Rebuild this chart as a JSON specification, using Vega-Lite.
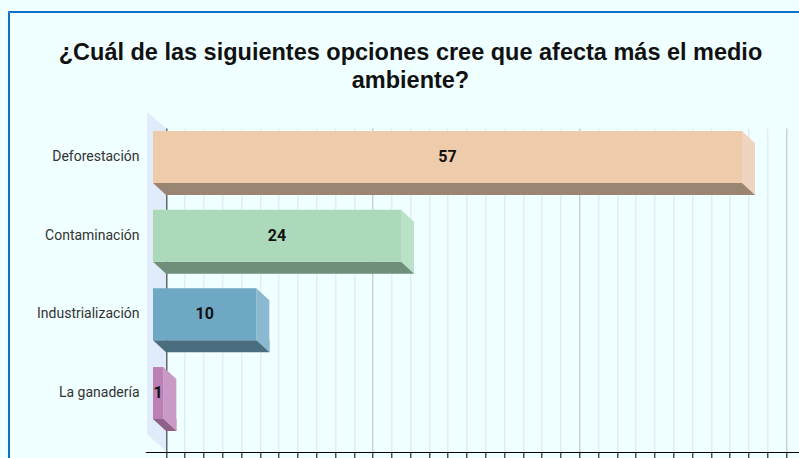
{
  "$schema": "https://vega.github.io/schema/vega-lite/v6.json",
  "autosize": {"type": "none"},
  "padding": {"left": 145.333, "top": 128, "right": -7.667, "bottom": 6},
  "width": 661.333,
  "height": 324,
  "background": "#f0ffff",
  "view": {"stroke": null},
  "title": {
    "text": ["¿Cuál de las siguientes opciones cree que afecta más el medio", "ambiente?"],
    "anchor": "middle",
    "frame": "group",
    "offset": -82,
    "dx": -65.5,
    "font": "Liberation Sans",
    "fontSize": 23.5,
    "fontWeight": "bold",
    "color": "#111111",
    "lineHeight": 28
  },
  "data": {
    "values": [
      {"opcion": "Deforestación", "votos": 57},
      {"opcion": "Contaminación", "votos": 24},
      {"opcion": "Industrialización", "votos": 10},
      {"opcion": "La ganadería", "votos": 1}
    ]
  },
  "encoding": {
    "y": {
      "field": "opcion",
      "type": "nominal",
      "sort": null,
      "scale": {"domain": ["Deforestación", "Contaminación", "Industrialización", "La ganadería"], "paddingInner": 0.339, "paddingOuter": 0.229, "align": 0.417},
      "axis": {
        "orient": "left",
        "offset": 6.333,
        "domain": false,
        "ticks": false,
        "tickSize": 0,
        "labelPadding": 0,
        "labelOffset": -12,
        "labelFont": "Roboto",
        "labelFontSize": 14,
        "labelColor": "#333333",
        "title": null,
        "grid": false
      }
    },
    "x": {
      "field": "votos",
      "type": "quantitative",
      "scale": {"domain": [-2, 62], "nice": false, "zero": false},
      "axis": {
        "values": [0, 1.8182, 3.6364, 5.4545, 7.2727, 9.0909, 10.9091, 12.7273, 14.5455, 16.3636, 18.1818, 20, 21.8182, 23.6364, 25.4545, 27.2727, 29.0909, 30.9091, 32.7273, 34.5455, 36.3636, 38.1818, 40, 41.8182, 43.6364, 45.4545, 47.2727, 49.0909, 50.9091, 52.7273, 54.5455, 56.3636, 58.1818, 60],
        "labels": false,
        "title": null,
        "domainColor": "#000000",
        "tickColor": "#000000",
        "tickSize": 6,
        "grid": true,
        "gridColor": {
          "condition": [
            {"test": "datum.value === 0", "value": "#1a1a1a"},
            {"test": "abs(datum.value - 20 * round(datum.value / 20)) < 0.01", "value": "#aebfca"}
          ],
          "value": "#d9e6f6"
        }
      }
    }
  },
  "layer": [
    {
      "transform": [{"filter": "datum.opcion === 'Contaminación'"}],
      "mark": {"type": "point", "shape": "M-19,-135.7L0,-119.7L0,203.3L-19,186.3Z", "size": 4, "filled": true, "opacity": 1, "strokeWidth": 0, "color": "#e1ecfb"},
      "encoding": {"x": {"datum": 0, "type": "quantitative"}}
    },
    {
      "mark": {"type": "bar", "height": 12, "yOffset": 20},
      "encoding": {
        "color": {"field": "opcion", "type": "nominal", "sort": null,
          "scale": {"domain": ["Deforestación", "Contaminación", "Industrialización", "La ganadería"], "range": ["#9a8472", "#6f8f7b", "#4b6d80", "#8f6088"]},
          "legend": {"orient": "none", "legendX": -137.333, "legendY": -117, "padding": 420, "strokeColor": "#0b71c7", "fillColor": "transparent", "symbolOpacity": 0, "labelExpr": "''", "title": null}}
      }
    },
    {
      "mark": {"type": "point", "shape": "M-13,14L0,14L0,26Z", "size": 4, "filled": true, "opacity": 1, "strokeWidth": 0},
      "encoding": {
        "x": {"datum": 0, "type": "quantitative"},
        "color": {"field": "opcion", "type": "nominal", "sort": null, "legend": null,
          "scale": {"domain": ["Deforestación", "Contaminación", "Industrialización", "La ganadería"], "range": ["#9a8472", "#6f8f7b", "#4b6d80", "#8f6088"]}}
      }
    },
    {
      "mark": {"type": "point", "shape": "M-13,-38L0,-26L0,26L-13,14Z", "size": 4, "filled": true, "opacity": 1, "strokeWidth": 0},
      "encoding": {
        "color": {"field": "opcion", "type": "nominal", "sort": null, "legend": null,
          "scale": {"domain": ["Deforestación", "Contaminación", "Industrialización", "La ganadería"], "range": ["#efd5c0", "#b9e2c9", "#8ab9d0", "#c99ac6"]}}
      }
    },
    {
      "mark": {"type": "bar", "height": 52, "yOffset": -12, "xOffset": -13, "x2Offset": -13},
      "encoding": {
        "color": {"field": "opcion", "type": "nominal", "sort": null,
          "scale": {"domain": ["Deforestación", "Contaminación", "Industrialización", "La ganadería"], "range": ["#eecbab", "#acd9b9", "#6fa8c4", "#bd80b5"]},
          "legend": {"orient": "none", "legendX": -136.333, "legendY": -116, "padding": 420, "strokeColor": "#0b71c7", "fillColor": "transparent", "symbolOpacity": 0, "labelExpr": "''", "title": null}}
      }
    },
    {
      "mark": {"type": "text", "font": "Roboto", "fontSize": 16, "fontWeight": "bold", "color": "#111111", "xOffset": -13, "yOffset": -12, "baseline": "middle", "align": "center"},
      "encoding": {
        "x": {"field": "votos", "type": "quantitative", "stack": "zero", "bandPosition": 0.5},
        "detail": {"field": "opcion", "type": "nominal"},
        "text": {"field": "votos", "type": "quantitative"}
      }
    }
  ],
  "resolve": {"scale": {"color": "independent"}, "legend": {"color": "independent"}}
}
